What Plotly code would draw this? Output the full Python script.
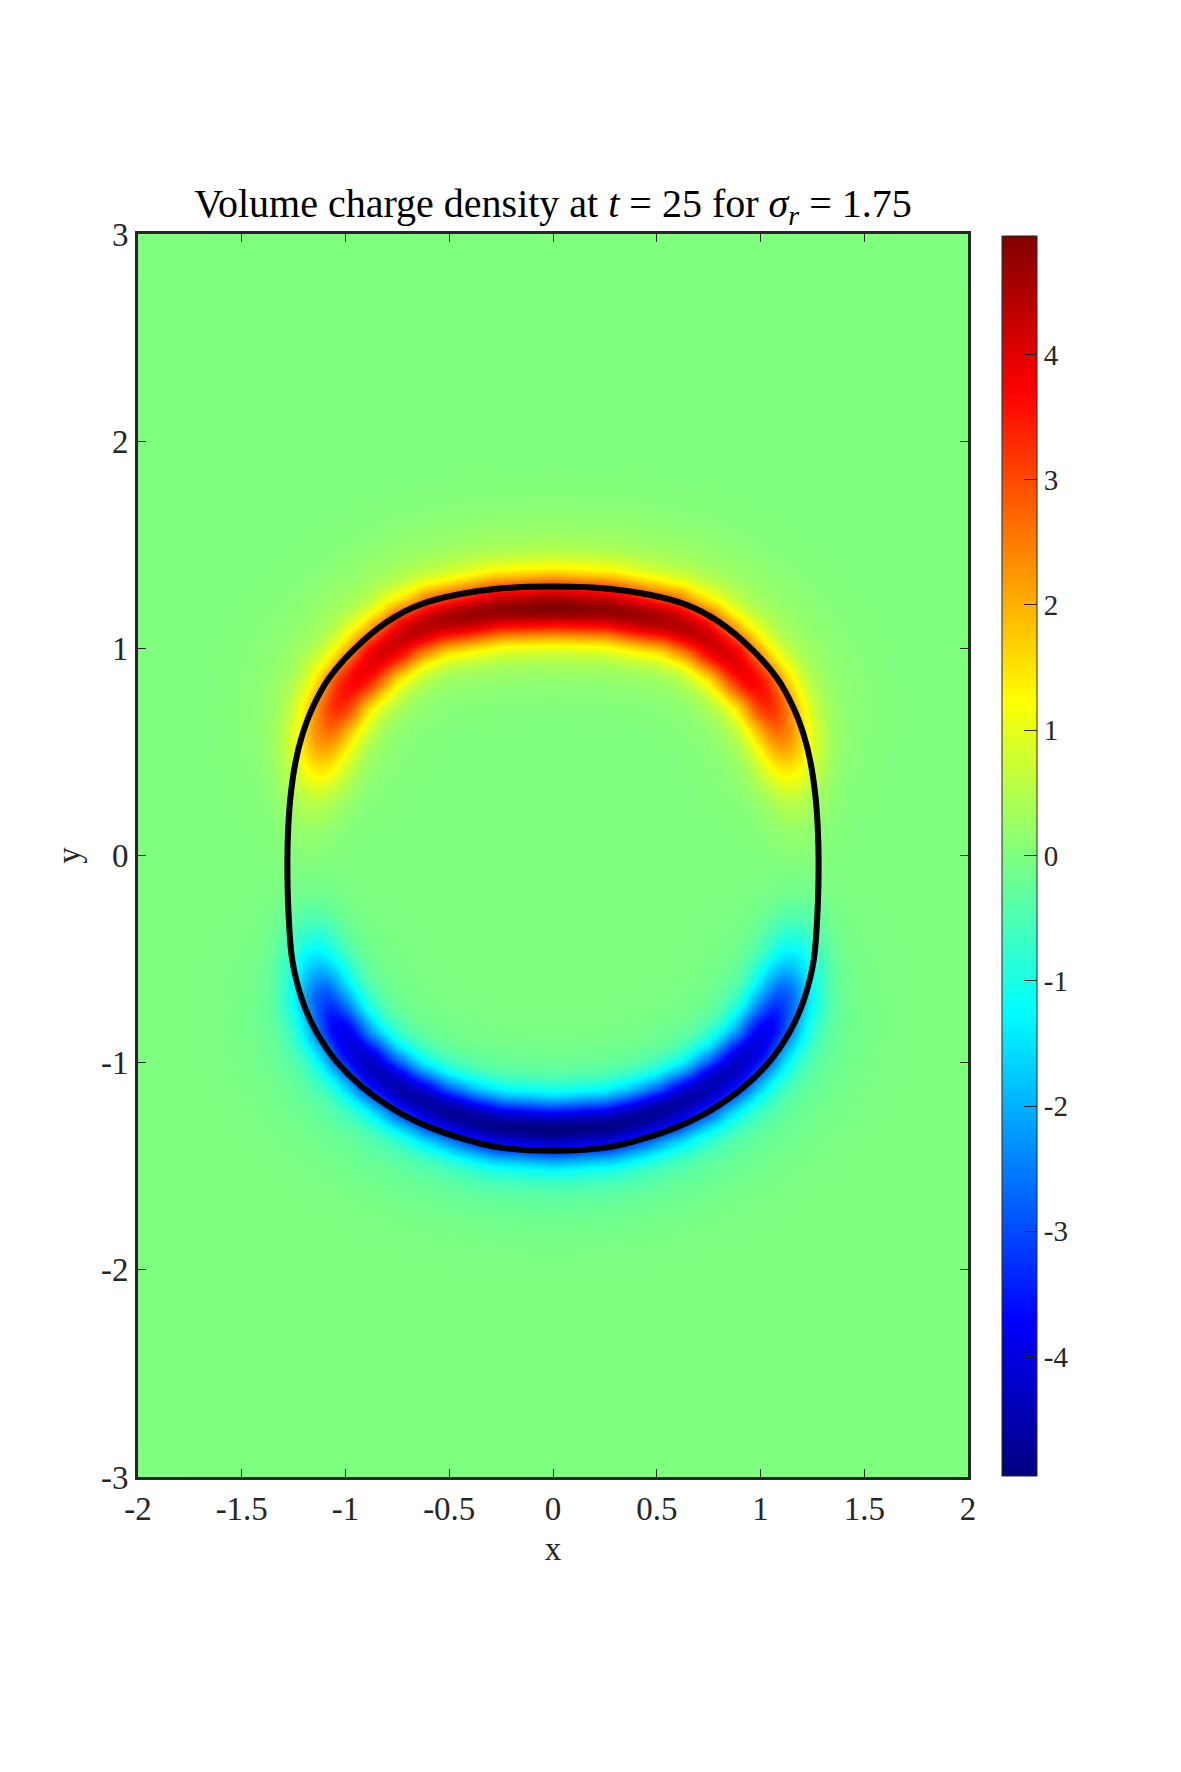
import numpy as np
import plotly.graph_objects as go

# interface (left half), top -> bottom
iface_x = [0.0, -0.279, -0.599, -0.760, -0.920, -1.080, -1.160, -1.208, -1.240, -1.264,
           -1.276, -1.280, -1.275, -1.256, -1.208, -1.144, -1.048, -0.920, -0.760, -0.599,
           -0.439, -0.279, 0.0]
iface_y = [1.298, 1.286, 1.225, 1.153, 1.032, 0.856, 0.711, 0.583, 0.455, 0.294,
           0.134, -0.026, -0.267, -0.508, -0.700, -0.845, -0.989, -1.117, -1.230, -1.310,
           -1.366, -1.406, -1.425]

# peak charge of the band vs angle around the drop (deg, 90 = top, -90 = bottom)
band_angle = [-90, -78, -60, -46, -36, -28, -22, -17, -12, -6, 0,
              8.5, 16, 21, 25, 30, 36.5, 44, 58, 72, 90]
band_peak = [-4.95, -4.85, -4.6, -4.3, -3.8, -2.8, -1.7, -1.0, -0.5, -0.15, 0.0,
             0.2, 0.6, 1.2, 1.8, 2.5, 3.3, 3.8, 4.3, 4.7, 4.95]

x_ticks = [-2, -1.5, -1, -0.5, 0, 0.5, 1, 1.5, 2]
y_ticks = [-3, -2, -1, 0, 1, 2, 3]
cb_ticks = [-4, -3, -2, -1, 0, 1, 2, 3, 4]
clim = 4.95

# closed interface curve
cx = iface_x + [-v for v in iface_x[::-1]][1:]
cy = iface_y + iface_y[::-1][1:]

# build the field on a grid
xg = np.linspace(-2, 2, 401)
yg = np.linspace(-3, 3, 601)
X, Y = np.meshgrid(xg, yg)
px, py = np.array(cx), np.array(cy)

dist = np.full(X.shape, np.inf)
inside = np.zeros(X.shape, dtype=bool)
for i in range(len(px) - 1):
    ax_, ay_, bx_, by_ = px[i], py[i], px[i + 1], py[i + 1]
    dx, dy = bx_ - ax_, by_ - ay_
    L2 = dx * dx + dy * dy
    if L2 == 0:
        continue
    t = np.clip(((X - ax_) * dx + (Y - ay_) * dy) / L2, 0, 1)
    d = np.hypot(X - (ax_ + t * dx), Y - (ay_ + t * dy))
    dist = np.minimum(dist, d)
    cond = ((ay_ > Y) != (by_ > Y))
    xint = ax_ + (Y - ay_) * dx / (dy if dy != 0 else 1e-12)
    inside ^= cond & (X < xint)

sd = np.where(inside, -dist, dist)
theta = np.degrees(np.arctan2(Y + 0.06, np.abs(X)))
amp = np.interp(theta, band_angle, band_peak)

u = sd + 0.1
prof_in = 0.85 * np.exp(-u**2 / (2 * 0.1**2)) + 0.15 * np.exp(-u**2 / (2 * 0.2**2))
prof_out = 0.85 * np.exp(-u**2 / (2 * 0.105**2)) + 0.15 * np.exp(-u**2 / (2 * 0.25**2))
Z = amp * np.where(u < 0, prof_in, prof_out)

jet = [[0, "rgb(0,0,128)"], [0.125, "rgb(0,0,255)"], [0.375, "rgb(0,255,255)"],
       [0.625, "rgb(255,255,0)"], [0.875, "rgb(255,0,0)"], [1, "rgb(128,0,0)"]]

font = "Liberation Serif"
ink = "#262626"

fig = go.Figure()
fig.add_trace(go.Heatmap(
    x=xg, y=yg, z=Z, zmin=-clim, zmax=clim, colorscale=jet, zsmooth="best",
    colorbar=dict(
        x=1.0415, xanchor="left", y=0.5, yanchor="middle", len=0.9976,
        xpad=0, ypad=0,
        thickness=35, outlinewidth=1, outlinecolor=ink,
        tickvals=cb_ticks, ticktext=[str(v) for v in cb_ticks],
        ticks="inside", ticklen=13, tickcolor=ink,
        tickfont=dict(family=font, size=29, color=ink),
    ),
))
fig.add_trace(go.Scatter(x=cx, y=cy, mode="lines", line=dict(color="black", width=6, shape="spline"),
                         hoverinfo="skip", showlegend=False))

axis_common = dict(showgrid=False, zeroline=False, showline=True, linecolor=ink, linewidth=3,
                   mirror="ticks", ticks="inside", ticklen=8, tickcolor=ink, tickwidth=1,
                   tickfont=dict(family=font, size=33, color=ink))
fig.update_xaxes(range=[-2, 2], tickvals=x_ticks, ticktext=[str(v) for v in x_ticks],
                 title=dict(text="x", font=dict(family=font, size=33, color=ink), standoff=12),
                 **axis_common)
fig.update_yaxes(range=[-3, 3], tickvals=y_ticks, ticktext=[str(v) for v in y_ticks],
                 title=dict(text="y", font=dict(family=font, size=33, color=ink), standoff=11),
                 **axis_common)

W, H = 1173, 1764
fig.update_layout(
    width=W, height=H,
    margin=dict(l=130, r=213, t=226, b=295),
    paper_bgcolor="white", plot_bgcolor="white",
    showlegend=False,
    title=dict(text="Volume charge density at <i>t</i> = 25 for <i>σ<sub>r</sub></i> = 1.75",
               x=0.5, xref="paper", xanchor="center", y=1 - 195 / H, yanchor="middle",
               font=dict(family=font, size=40, color="black")),
)

fig.write_html("out.html")
